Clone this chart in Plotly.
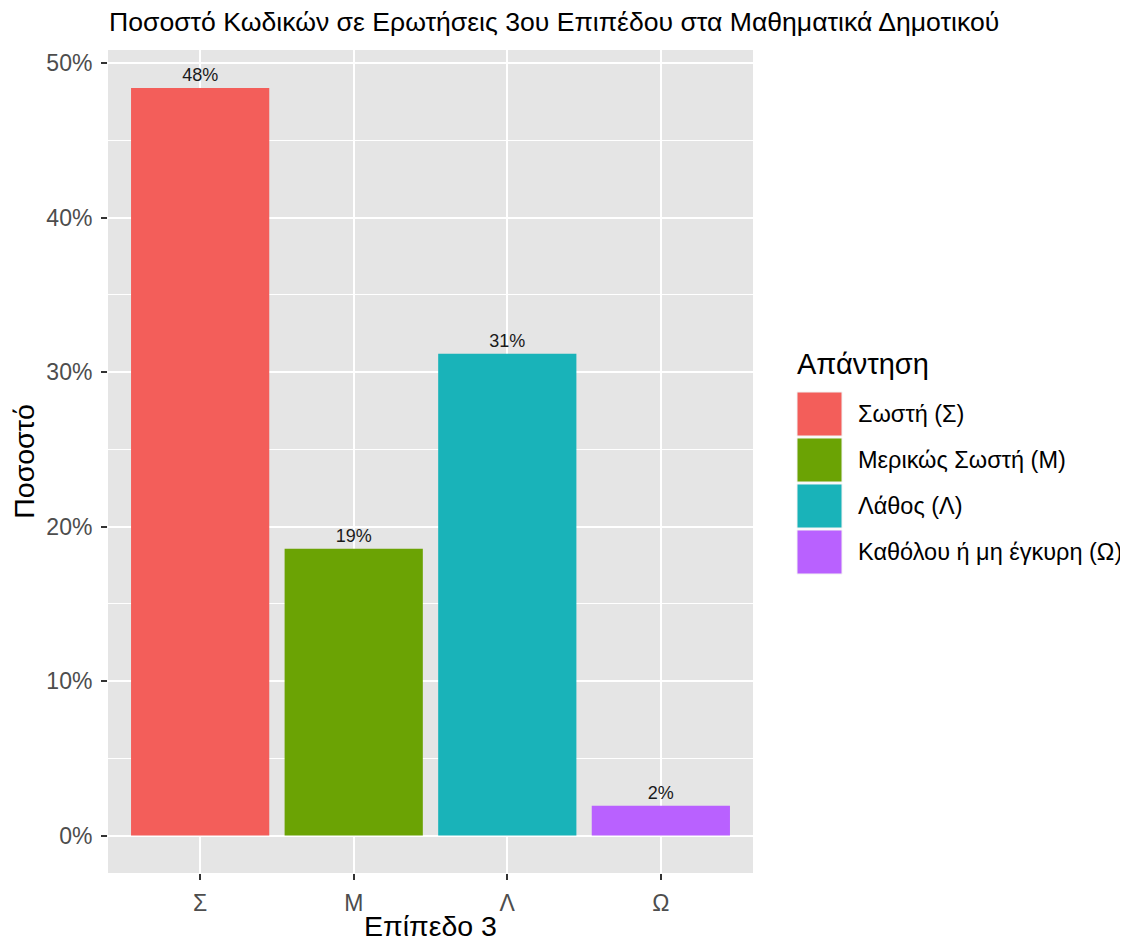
import plotly.graph_objects as go

categories = ["Σ", "Μ", "Λ", "Ω"]
legend_names = ["Σωστή (Σ)", "Μερικώς Σωστή (Μ)", "Λάθος (Λ)", "Καθόλου ή μη έγκυρη (Ω)"]
percentages = [0.4838, 0.1856, 0.3118, 0.0194]
bar_labels = ["48%", "19%", "31%", "2%"]
colors = ["#F35E5A", "#6BA304", "#19B3B9", "#B961FF"]

# page has an 8px body margin; figure drawn 1120x934 so it fits the window
OFF = 8
W, H = 1120, 934
L, R, T, B = 108, 753, 50, 873   # plot area in screen pixels
FONT = "Liberation Sans, Arial, sans-serif"

fig = go.Figure()
fig.add_trace(go.Bar(
    x=categories, y=percentages, width=0.9,
    marker=dict(color=colors, line=dict(width=0)),
    text=bar_labels, textposition="outside", cliponaxis=False,
    textfont=dict(family=FONT, size=18, color="#1A1A1A"),
    showlegend=False, hoverinfo="skip",
))

ymax = max(percentages)
pad = ymax * 0.05

fig.update_layout(
    width=W, height=H,
    margin=dict(l=L - OFF, r=W + OFF - R, t=T - OFF, b=H + OFF - B, pad=0, autoexpand=False),
    paper_bgcolor="white", plot_bgcolor="#E5E5E5",
    font=dict(family=FONT, color="#1A1A1A"),
    title=dict(text="Ποσοστό Κωδικών σε Ερωτήσεις 3ου Επιπέδου στα Μαθηματικά Δημοτικού",
               x=(109 - OFF) / W, xanchor="left", y=1 - (22 - OFF) / H, yanchor="middle",
               font=dict(size=26.6, color="#000000")),
    xaxis=dict(range=[-0.6, 3.6], showgrid=True, gridcolor="white", gridwidth=2,
               automargin=False,
               ticks="outside", ticklen=6, tickwidth=2, tickcolor="#333333",
               ticklabelstandoff=3,
               tickfont=dict(size=23, color="#4D4D4D"), zeroline=False,
               title=dict(text="Επίπεδο 3", font=dict(size=28.5, color="#000000"), standoff=4)),
    yaxis=dict(range=[-pad, 0.5084], tickformat=".0%", dtick=0.1, tick0=0,
               automargin=False,
               showgrid=True, gridcolor="white", gridwidth=2, zeroline=False,
               ticks="outside", ticklen=6, tickwidth=2, tickcolor="#333333",
               ticklabelstandoff=4,
               tickfont=dict(size=23, color="#4D4D4D"),
               minor=dict(dtick=0.05, tick0=0.05, showgrid=True, gridcolor="white", gridwidth=1, ticks=""),
               title=dict(text="Ποσοστό", font=dict(size=28.5, color="#000000"), standoff=10)),
    bargap=0.1,
)

def px(x):
    return (x - L) / (R - L)

def py(y):
    return (B - y) / (B - T)

fig.add_annotation(text="Απάντηση", xref="paper", yref="paper", x=px(795), y=py(364),
                   xanchor="left", yanchor="middle", showarrow=False,
                   font=dict(size=29, color="#000000"))
key_top = 392
for i, (name, c) in enumerate(zip(legend_names, colors)):
    y0 = key_top + i * 46
    fig.add_shape(type="rect", xref="paper", yref="paper",
                  x0=px(797), x1=px(842), y0=py(y0), y1=py(y0 + 44),
                  fillcolor=c, line=dict(color="#F2F2F2", width=1))
    fig.add_annotation(text=name, xref="paper", yref="paper", x=px(856), y=py(y0 + 22),
                       xanchor="left", yanchor="middle", showarrow=False,
                       font=dict(size=23.5, color="#000000"))

fig.write_html("out.html")
